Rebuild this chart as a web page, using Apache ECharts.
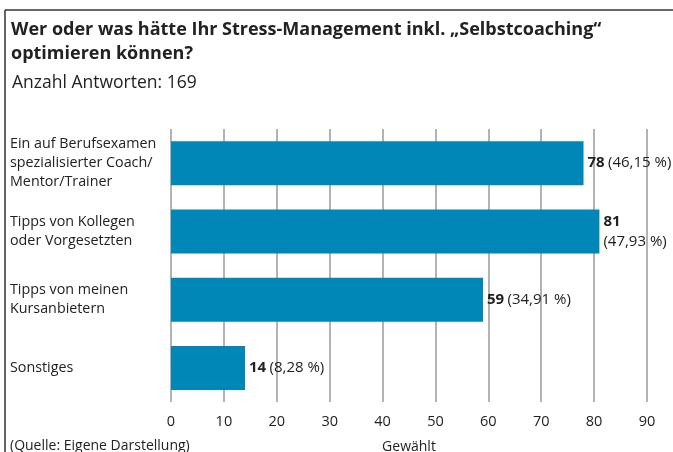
<!DOCTYPE html>
<html>
<head>
<meta charset="utf-8">
<script src="https://cdn.jsdelivr.net/npm/echarts@6/dist/echarts.min.js"></script>
<style>
html,body{margin:0;padding:0;background:#fff;}
#c{width:673px;height:452px;}
</style>
</head>
<body>
<div id="c"></div>
<script>
var categories = [
  'Ein auf Berufsexamen\nspezialisierter Coach/\nMentor/Trainer',
  'Tipps von Kollegen\noder Vorgesetzten',
  'Tipps von meinen\nKursanbietern',
  'Sonstiges'
];
var counts = [78, 81, 59, 14];
var percents = ['46,15', '47,93', '34,91', '8,28'];
var xTicks = [0, 10, 20, 30, 40, 50, 60, 70, 80, 90];
var titleText = 'Wer oder was hätte Ihr Stress-Management inkl. „Selbstcoaching“\noptimieren können?';
var subtitleText = 'Anzahl Antworten: 169';
var sourceText = '(Quelle: Eigene Darstellung)';
var axisName = 'Gewählt';

var FONT = 'Open Sans';
var chart = echarts.init(document.getElementById('c'));
chart.setOption({
  animation: false,
  backgroundColor: '#fff',
  title: [
    {text: titleText, left: 11, top: 18, padding: 0,
     textStyle: {fontFamily: FONT, fontWeight: 'bold', fontSize: 18, color: '#222', lineHeight: 24}},
    {text: subtitleText, left: 12, top: 74, padding: 0,
     textStyle: {fontFamily: FONT, fontWeight: 'normal', fontSize: 17.5, color: '#222'}}
  ],
  graphic: [
    {type: 'line', shape: {x1: 5, y1: 10, x2: 673, y2: 10}, style: {stroke: '#333', lineWidth: 1.5}},
    {type: 'line', shape: {x1: 5, y1: 10, x2: 5, y2: 452}, style: {stroke: '#333', lineWidth: 1.5}},
    {type: 'text', left: 10, top: 439,
     style: {text: sourceText, font: '14px "' + FONT + '"', fill: '#222'}}
  ],
  grid: {left: 171, right: 26, top: 129, bottom: 50, outerBoundsMode: 'none', containLabel: false},
  xAxis: {
    type: 'value', min: xTicks[0], max: xTicks[xTicks.length - 1], interval: 10,
    name: axisName, nameLocation: 'middle', nameGap: 38,
    nameTextStyle: {fontFamily: FONT, fontSize: 14, color: '#222'},
    axisLine: {show: false}, axisTick: {show: false},
    axisLabel: {fontFamily: FONT, fontSize: 14.5, color: '#222', margin: 12},
    splitLine: {show: true, lineStyle: {color: '#b3b3b3', width: 2}}
  },
  yAxis: {
    type: 'category', data: categories, inverse: true,
    axisLine: {show: false}, axisTick: {show: false},
    axisLabel: {fontFamily: FONT, fontSize: 14.3, color: '#222', align: 'left', margin: 161, lineHeight: 19}
  },
  series: [{
    type: 'bar', data: counts, barWidth: 44,
    itemStyle: {color: '#0087b7'},
    label: {
      show: true, position: 'right', distance: 4,
      formatter: function (p) {
        var sep = p.dataIndex === 1 ? '\n' : ' ';
        return '{b|' + p.value + '}' + sep + '{n|(' + percents[p.dataIndex] + ' %)}';
      },
      rich: {
        b: {fontFamily: FONT, fontWeight: 'bold', fontSize: 15, color: '#222', lineHeight: 20},
        n: {fontFamily: FONT, fontSize: 15, color: '#222', lineHeight: 20}
      }
    }
  }]
});
</script>
</body>
</html>
